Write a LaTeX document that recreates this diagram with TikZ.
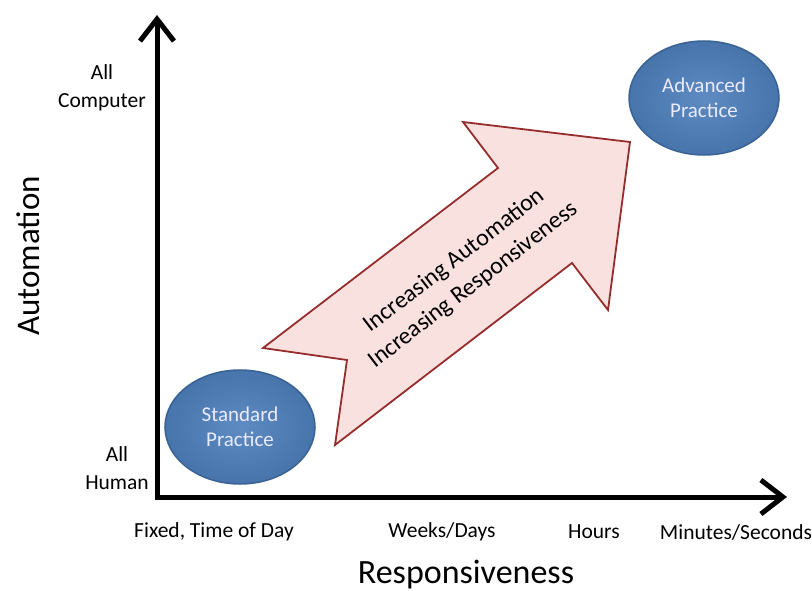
\documentclass[tikz,border=0pt]{standalone}
\usepackage{fontspec}
\setmainfont{Carlito}
\usetikzlibrary{arrows.meta,shapes.geometric}

\definecolor{ovalblue}{RGB}{79,129,189}
\definecolor{ovaledge}{RGB}{58,98,148}
\definecolor{arrowfill}{RGB}{248,225,223}
\definecolor{arrowedge}{RGB}{150,45,45}

\tikzset{
  axis/.style={line width=5pt, line join=miter,
    {Straight Barb[length=22pt,width=34pt]}-{Straight Barb[length=22pt,width=34pt]}},
  practice/.style={ellipse, draw=ovaledge, line width=1.5pt,
    shading=radial, inner color=ovalblue!92!white, outer color=ovalblue!90!black,
    minimum width=150pt, minimum height=114pt, align=center,
    text=white!92!blue, font=\fontsize{21}{25}\selectfont},
  ticklabel/.style={font=\fontsize{21.5}{26}\selectfont},
  endlabel/.style={align=center, font=\fontsize{21.5}{28}\selectfont},
  axislabel/.style={font=\fontsize{34}{38}\selectfont}
}

\begin{document}
\begin{tikzpicture}[x=1pt, y=-1pt]
  \useasboundingbox (0,0) rectangle (812,591);

  % Axes
  \coordinate (ytop) at (157,15);
  \coordinate (origin) at (157,497);
  \coordinate (xend) at (787,497);
  \draw[axis] (ytop) -- (origin) -- (xend);

  % Axis titles
  \node[axislabel, rotate=90, font=\fontsize{33}{36}\selectfont] (autolabel) at (28,256) {Automation};
  \node[axislabel] (resplabel) at (466,575) {Responsiveness};

  % Labels on the automation axis
  \node[endlabel] (allcomp) at (102,88) {All\\Computer};
  \node[endlabel] (allhuman) at (117,468) {All\\Human};

  % Labels on the responsiveness axis
  \node[ticklabel] (fixed) at (214,532) {Fixed, Time of Day};
  \node[ticklabel] (weeks) at (442,532) {Weeks/Days};
  \node[ticklabel] (hours) at (594,532) {Hours};
  \node[ticklabel] (minutes) at (736,532) {Minutes/Seconds};

  % Big notched arrow
  \filldraw[fill=arrowfill, draw=arrowedge, line width=1.8pt, line join=miter]
    (263,348) -- (498,168) -- (463,122) -- (630,142) -- (608,310)
    -- (572,263) -- (335,445) -- (347,360) -- cycle;
  \node[rotate=37.5, align=center, font=\fontsize{24}{31}\selectfont] (trend) at (464,273)
    {Increasing Automation\\Increasing Responsiveness};

  % The two practices
  \node[practice] (standard) at (240,427) {Standard\\Practice};
  \node[practice] (advanced) at (704,98) {Advanced\\Practice};
\end{tikzpicture}
\end{document}
